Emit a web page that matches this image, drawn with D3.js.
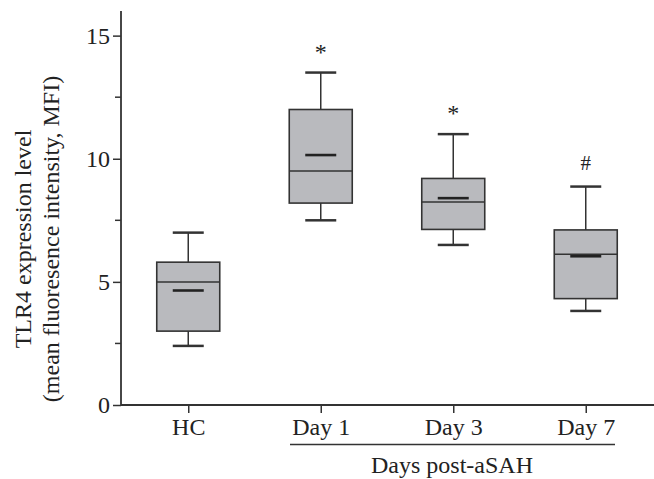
<!DOCTYPE html>
<meta charset="utf-8">
<style>
  body { margin: 0; background: #fff; }
  text { font-family: "Liberation Serif", "Times New Roman", serif; fill: #222; }
</style>
<script src="https://d3js.org/d3.v7.min.js"></script>
<div id="chart"></div>
<script>

// groups and box statistics
var groups   = ["HC", "Day 1", "Day 3", "Day 7"];
var whiskLo  = [2.4, 7.5, 6.5, 3.82];
var q1       = [3.0, 8.2, 7.13, 4.32];
var medians  = [5.0, 9.5, 8.24, 6.12];
var means    = [4.65, 10.15, 8.4, 6.04];
var q3       = [5.8, 12.0, 9.2, 7.11];
var whiskHi  = [7.0, 13.5, 11.0, 8.87];
var marks    = ["", "*", "*", "#"];
var yTicks   = [0, 5, 10, 15];
var yMinor   = [2.5, 7.5, 12.5];

var width = 654, height = 479;
var stroke = "#333";
var fs = 24;

var svg = d3.select("#chart").append("svg")
    .attr("width", width)
    .attr("height", height);

var y = d3.scaleLinear().domain([0, 16]).range([405, 11]);
var x = d3.scalePoint().domain(groups).range([122, 652]).padding(0.5);

// y axis
var yAxis = svg.append("g")
    .attr("transform", "translate(121,0)")
    .call(d3.axisLeft(y).tickValues(yTicks).tickSize(8).tickSizeOuter(0).tickPadding(3));
yAxis.select(".domain").remove();
yAxis.selectAll(".tick line").attr("stroke", stroke).attr("stroke-width", 1.5);
yAxis.selectAll(".tick text").attr("font-size", fs).attr("fill", "#222")
    .style("font-family", "Liberation Serif");

svg.append("g").selectAll("line").data(yMinor).enter().append("line")
    .attr("x1", 115).attr("x2", 121)
    .attr("y1", function(d) { return y(d); })
    .attr("y2", function(d) { return y(d); })
    .attr("stroke", stroke).attr("stroke-width", 1.5);

svg.append("line")
    .attr("x1", 121).attr("x2", 121)
    .attr("y1", 11).attr("y2", y(0))
    .attr("stroke", stroke).attr("stroke-width", 1.8);

// x axis
var xAxis = svg.append("g")
    .attr("transform", "translate(0," + y(0) + ")")
    .call(d3.axisBottom(x).tickSize(8).tickSizeOuter(0).tickPadding(5));
xAxis.select(".domain").remove();
xAxis.selectAll(".tick line").attr("stroke", stroke).attr("stroke-width", 1.5);
xAxis.selectAll(".tick text").attr("font-size", fs).attr("fill", "#222")
    .style("font-family", "Liberation Serif");

svg.append("line")
    .attr("x1", 121).attr("x2", width)
    .attr("y1", y(0)).attr("y2", y(0))
    .attr("stroke", stroke).attr("stroke-width", 1.8);

// boxes
var boxHalf = 31.5, capHalf = 15.5;
var box = svg.append("g").selectAll("g")
    .data(groups).enter().append("g");

// whiskers
box.append("line")
    .attr("x1", function(d) { return x(d); })
    .attr("x2", function(d) { return x(d); })
    .attr("y1", function(d, i) { return y(whiskLo[i]); })
    .attr("y2", function(d, i) { return y(whiskHi[i]); })
    .attr("stroke", stroke).attr("stroke-width", 1.5);

[whiskLo, whiskHi].forEach(function(arr) {
  box.append("line")
      .attr("x1", function(d) { return x(d) - capHalf; })
      .attr("x2", function(d) { return x(d) + capHalf; })
      .attr("y1", function(d, i) { return y(arr[i]); })
      .attr("y2", function(d, i) { return y(arr[i]); })
      .attr("stroke", stroke).attr("stroke-width", 2.5);
});

box.append("rect")
    .attr("x", function(d) { return x(d) - boxHalf; })
    .attr("width", boxHalf * 2)
    .attr("y", function(d, i) { return y(q3[i]); })
    .attr("height", function(d, i) { return y(q1[i]) - y(q3[i]); })
    .attr("fill", "#b9babe")
    .attr("stroke", stroke).attr("stroke-width", 1.6);

// median
box.append("line")
    .attr("x1", function(d) { return x(d) - boxHalf; })
    .attr("x2", function(d) { return x(d) + boxHalf; })
    .attr("y1", function(d, i) { return y(medians[i]); })
    .attr("y2", function(d, i) { return y(medians[i]); })
    .attr("stroke", stroke).attr("stroke-width", 1.5);

// mean
box.append("line")
    .attr("x1", function(d) { return x(d) - capHalf; })
    .attr("x2", function(d) { return x(d) + capHalf; })
    .attr("y1", function(d, i) { return y(means[i]); })
    .attr("y2", function(d, i) { return y(means[i]); })
    .attr("stroke", "#222").attr("stroke-width", 2.6);

// significance marks
box.append("text")
    .attr("x", function(d) { return x(d); })
    .attr("y", function(d, i) { return y(whiskHi[i]) - (marks[i] == "#" ? 17 : 13); })
    .attr("text-anchor", "middle")
    .attr("font-size", function(d, i) { return marks[i] == "#" ? 21 : 24; })
    .text(function(d, i) { return marks[i]; });

// bracket under the post-aSAH days
svg.append("line")
    .attr("x1", 290).attr("x2", 615)
    .attr("y1", 444.5).attr("y2", 444.5)
    .attr("stroke", stroke).attr("stroke-width", 1.5);

svg.append("text")
    .attr("x", 452).attr("y", 473)
    .attr("text-anchor", "middle")
    .attr("font-size", fs)
    .text("Days post-aSAH");

// y axis title
var yt = svg.append("text")
    .attr("transform", "translate(0,239) rotate(-90)")
    .attr("text-anchor", "middle")
    .attr("font-size", fs);
yt.append("tspan").attr("x", 0).attr("y", 31).text("TLR4 expression level");
yt.append("tspan").attr("x", 0).attr("y", 59).text("(mean fluoresence intensity, MFI)");

</script>
